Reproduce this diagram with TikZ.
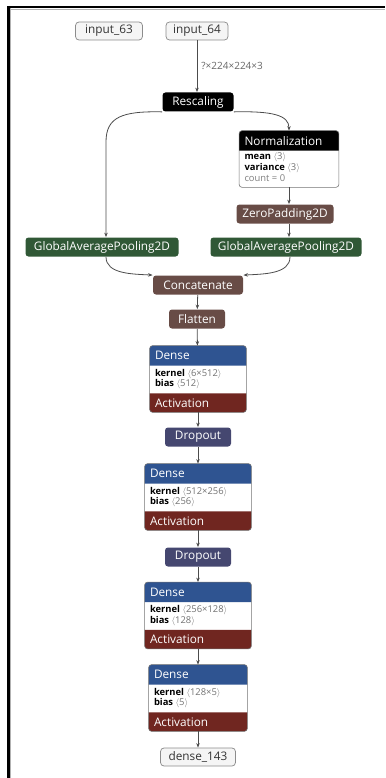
\documentclass[tikz,border=0pt]{standalone}
\usepackage{fontspec}
\setmainfont{Open Sans}
\usetikzlibrary{arrows.meta,calc}

\definecolor{layerblue}{RGB}{47,84,145}
\definecolor{actred}{RGB}{112,38,32}
\definecolor{poolgreen}{RGB}{48,88,54}
\definecolor{dropblue}{RGB}{69,71,112}
\definecolor{shapebrown}{RGB}{104,76,70}

\tikzset{every picture/.style={line width=0.75pt}}
\tikzset{
  iobox/.style={draw=black!45, fill=black!4, rounded corners=3.5pt, minimum height=18, inner xsep=5, inner ysep=0, text=black!80, font=\fontsize{11.8}{13}\selectfont},
  opbox/.style={rounded corners=3pt, minimum height=19, inner xsep=5, inner ysep=0, text=white, font=\fontsize{11.8}{13}\selectfont},
  blockbox/.style={fill=white, inner sep=0},
  blockline/.style={draw=black!55, line width=0.6pt, rounded corners=3pt},
  headtext/.style={anchor=west, inner sep=0, text=white, font=\fontsize{11.8}{13}\selectfont},
  attrtext/.style={anchor=north west, inner sep=0, align=left, font=\fontsize{9.4}{10.8}\selectfont},
  edgelabel/.style={inner sep=4, text=black!60, font=\fontsize{10}{11}\selectfont},
  edge/.style={draw=black!70, line width=0.8pt, -{Stealth[length=4.5pt,width=3.5pt]}},
}
\newcommand{\shp}[1]{\textcolor{black!55}{$\langle$#1$\rangle$}}

\begin{document}
\begin{tikzpicture}[x=1pt,y=1pt,yscale=-1]
\useasboundingbox (0,0) rectangle (385,778);

% frame
\draw [black!30, line width=1pt] (7,9.5) -- (385,9.5);
\draw [black!30, line width=1pt] (10,7) -- (10,778);
\draw [black, line width=2.6pt] (7,7.2) -- (385,7.2);
\draw [black, line width=2.6pt] (8.3,6) -- (8.3,778);

% Text Node
\node [iobox, minimum width=67] (in63) at (109,31) {input\_63};
\node [iobox, minimum width=62] (in64) at (197,31) {input\_64};
\node [opbox, fill=black, minimum width=71] (rescale) at (198,102) {Rescaling};

%Shape: Normalization
\node [blockbox, minimum width=99, minimum height=56] (norm) at (289,159) {};
\fill [black] ($(norm.north west)+(0,20)$) [rounded corners=3pt] -- (norm.north west) -- (norm.north east) [sharp corners] -- ($(norm.north east)+(0,20)$) -- cycle;
\draw [blockline] (norm.north west) rectangle (norm.south east);
\node [headtext] (normt) at ($(norm.north west)+(5,10)$) {Normalization};
\node [attrtext, font=\fontsize{9.4}{11}\selectfont] (norma) at ($(norm.north west)+(5,22)$) {\textbf{mean} \shp{3}\\ \textbf{variance} \shp{3}\\ \textcolor{black!50}{count = 0}};

\node [opbox, fill=shapebrown, minimum width=97] (zp) at (285,214) {ZeroPadding2D};
\node [opbox, fill=poolgreen, minimum width=153] (gap1) at (102,247) {GlobalAveragePooling2D};
\node [opbox, fill=poolgreen, minimum width=151] (gap2) at (286,247) {GlobalAveragePooling2D};
\node [opbox, fill=shapebrown, minimum width=90] (concat) at (198,285) {Concatenate};
\node [opbox, fill=shapebrown, minimum width=56] (flat) at (197,319) {Flatten};

%Shape: Dense 1
\node [blockbox, minimum width=96, minimum height=66] (d1) at (198,379) {};
\fill [layerblue] ($(d1.north west)+(0,20)$) [rounded corners=3pt] -- (d1.north west) -- (d1.north east) [sharp corners] -- ($(d1.north east)+(0,20)$) -- cycle;
\fill [actred] ($(d1.south west)+(0,-19)$) -- ($(d1.south east)+(0,-19)$) [rounded corners=3pt] -- (d1.south east) -- (d1.south west) [sharp corners] -- cycle;
\draw [blockline] (d1.north west) rectangle (d1.south east);
\node [headtext] (d1t) at ($(d1.north west)+(5,10)$) {Dense};
\node [attrtext] (d1k) at ($(d1.north west)+(5,23)$) {\textbf{kernel} \shp{6×512}\\ \textbf{bias} \shp{512}};
\node [headtext] (d1a) at ($(d1.south west)+(5,-9.5)$) {Activation};

\node [opbox, fill=dropblue, minimum width=66] (drop1) at (198,437) {Dropout};

%Shape: Dense 2
\node [blockbox, minimum width=106, minimum height=66] (d2) at (198,497) {};
\fill [layerblue] ($(d2.north west)+(0,20)$) [rounded corners=3pt] -- (d2.north west) -- (d2.north east) [sharp corners] -- ($(d2.north east)+(0,20)$) -- cycle;
\fill [actred] ($(d2.south west)+(0,-19)$) -- ($(d2.south east)+(0,-19)$) [rounded corners=3pt] -- (d2.south east) -- (d2.south west) [sharp corners] -- cycle;
\draw [blockline] (d2.north west) rectangle (d2.south east);
\node [headtext] (d2t) at ($(d2.north west)+(5,10)$) {Dense};
\node [attrtext] (d2k) at ($(d2.north west)+(5,23)$) {\textbf{kernel} \shp{512×256}\\ \textbf{bias} \shp{256}};
\node [headtext] (d2a) at ($(d2.south west)+(5,-9.5)$) {Activation};

\node [opbox, fill=dropblue, minimum width=66] (drop2) at (198,557) {Dropout};

%Shape: Dense 3
\node [blockbox, minimum width=106, minimum height=66] (d3) at (198,615.5) {};
\fill [layerblue] ($(d3.north west)+(0,20)$) [rounded corners=3pt] -- (d3.north west) -- (d3.north east) [sharp corners] -- ($(d3.north east)+(0,20)$) -- cycle;
\fill [actred] ($(d3.south west)+(0,-19)$) -- ($(d3.south east)+(0,-19)$) [rounded corners=3pt] -- (d3.south east) -- (d3.south west) [sharp corners] -- cycle;
\draw [blockline] (d3.north west) rectangle (d3.south east);
\node [headtext] (d3t) at ($(d3.north west)+(5,10)$) {Dense};
\node [attrtext] (d3k) at ($(d3.north west)+(5,23)$) {\textbf{kernel} \shp{256×128}\\ \textbf{bias} \shp{128}};
\node [headtext] (d3a) at ($(d3.south west)+(5,-9.5)$) {Activation};

%Shape: Dense 4
\node [blockbox, minimum width=98, minimum height=66] (d4) at (198,698) {};
\fill [layerblue] ($(d4.north west)+(0,20)$) [rounded corners=3pt] -- (d4.north west) -- (d4.north east) [sharp corners] -- ($(d4.north east)+(0,20)$) -- cycle;
\fill [actred] ($(d4.south west)+(0,-19)$) -- ($(d4.south east)+(0,-19)$) [rounded corners=3pt] -- (d4.south east) -- (d4.south west) [sharp corners] -- cycle;
\draw [blockline] (d4.north west) rectangle (d4.south east);
\node [headtext] (d4t) at ($(d4.north west)+(5,10)$) {Dense};
\node [attrtext] (d4k) at ($(d4.north west)+(5,23)$) {\textbf{kernel} \shp{128×5}\\ \textbf{bias} \shp{5}};
\node [headtext] (d4a) at ($(d4.south west)+(5,-9.5)$) {Activation};

\node [iobox, minimum width=75] (out) at (198,757) {dense\_143};

%Edges
\draw [edge] (in64.south) -- node [edgelabel, right] (inshape) {?×224×224×3} (in64.south |- rescale.north);
\draw [edge] (rescale.south west) .. controls (122,111) and (106,117) .. (106,142) -- ([xshift=4pt]gap1.north);
\draw [edge] (rescale.south east) .. controls (272,111) and (289,115) .. (norm.north);
\draw [edge] (norm.south) -- (norm.south |- zp.north);
\draw [edge] (norm.south |- zp.south) -- (norm.south |- gap2.north);
\draw [edge] ([xshift=4pt]gap1.south) .. controls (106,274) and (132,274) .. (concat.north west);
\draw [edge] ([xshift=4pt]gap2.south) .. controls (290,274) and (264,274) .. (concat.north east);
\draw [edge] (concat) -- (flat);
\draw [edge] (flat) -- (d1);
\draw [edge] (d1) -- (drop1);
\draw [edge] (drop1) -- (d2);
\draw [edge] (d2) -- (drop2);
\draw [edge] (drop2) -- (d3);
\draw [edge] (d3) -- (d4);
\draw [edge] (d4) -- (out);
\end{tikzpicture}
\end{document}
